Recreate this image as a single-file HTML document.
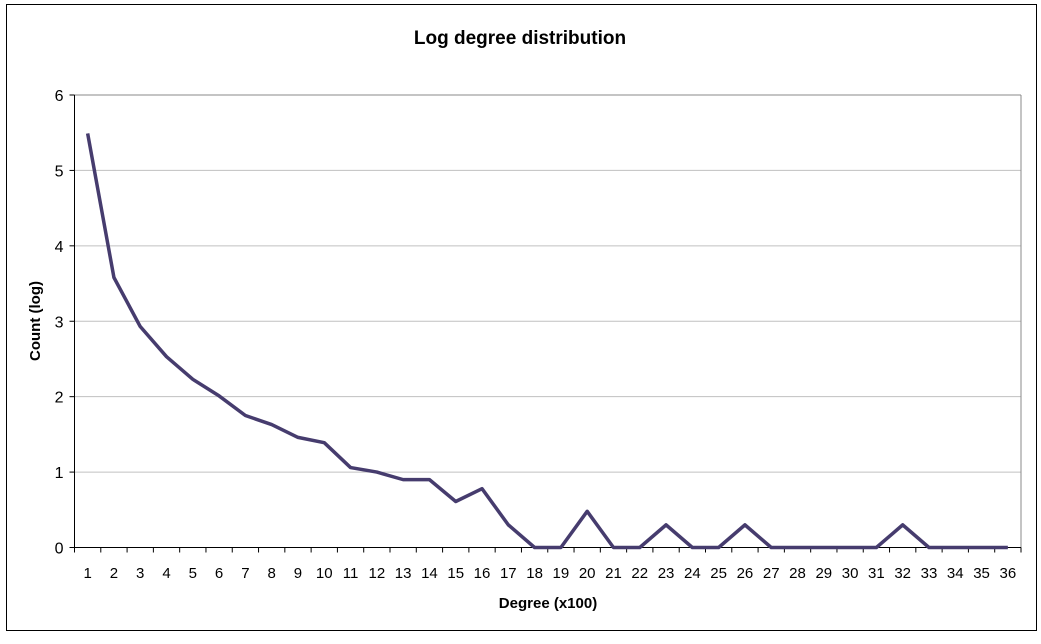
<!DOCTYPE html>
<html><head><meta charset="utf-8"><style>
body{margin:0;background:#fff}
svg{font-family:"Liberation Sans",sans-serif}
</style></head><body>
<svg id="chart" width="1041" height="639" xmlns="http://www.w3.org/2000/svg">
<rect x="6.5" y="4.5" width="1030" height="626" fill="#fff" stroke="#000" stroke-width="1"/>
<text x="520" y="44" text-anchor="middle" font-size="19" font-weight="bold">Log degree distribution</text>
<text transform="translate(40,321) rotate(-90)" text-anchor="middle" font-size="15" font-weight="bold">Count (log)</text>
<text x="548" y="608" text-anchor="middle" font-size="15" font-weight="bold">Degree (x100)</text>
<g id="grid"></g><g id="axes"></g><g id="series"></g>
</svg>
<script>
const categories=[1,2,3,4,5,6,7,8,9,10,11,12,13,14,15,16,17,18,19,20,21,22,23,24,25,26,27,28,29,30,31,32,33,34,35,36];
const counts=[5.49,3.58,2.93,2.53,2.23,2.01,1.75,1.63,1.46,1.39,1.06,1.0,0.9,0.9,0.61,0.78,0.3,0,0,0.48,0,0,0.3,0,0,0.3,0,0,0,0,0,0.3,0,0,0,0];
const yTicks=[0,1,2,3,4,5,6];
const L=74.5,R=1021,T=95,B=547.5,NS="http://www.w3.org/2000/svg";
const bw=(R-L)/categories.length;
const x=i=>L+bw*(i+0.5), y=v=>B-(B-T)*v/6;
function mk(t,a,p){const e=document.createElementNS(NS,t);for(const k in a)e.setAttribute(k,a[k]);p.appendChild(e);return e;}
const g=document.getElementById('grid'),ax=document.getElementById('axes'),s=document.getElementById('series');
yTicks.forEach(v=>{
 if(v>0){const l=mk('line',{x1:L,x2:R,y1:y(v),y2:y(v),stroke:v==6?'#888':'#c0c0c0'},g);
 
 }
 const t=mk('line',{x1:L-5,x2:L,y1:y(v),y2:y(v),stroke:'#000'},ax);
 const tx=mk('text',{x:L-11,y:y(v)+6,'text-anchor':'end','font-size':'16'},ax);tx.textContent=v;
 
 
});
mk('line',{x1:R,x2:R,y1:T,y2:B,stroke:'#888'},g);
mk('line',{x1:L,x2:L,y1:T,y2:B,stroke:'#000'},ax);
mk('line',{x1:L,x2:R,y1:B,y2:B,stroke:'#000'},ax);
categories.forEach((c,i)=>{
 mk('line',{x1:L+bw*i,x2:L+bw*i,y1:B,y2:B+5,stroke:'#000'},ax);
 const tx=mk('text',{x:x(i),y:578,'text-anchor':'middle','font-size':'15'},ax);tx.textContent=c;
 
 
});
mk('line',{x1:R,x2:R,y1:B,y2:B+5,stroke:'#000'},ax);
const p=mk('polyline',{points:counts.map((v,i)=>x(i)+','+y(v)).join(' '),fill:'none',stroke:'#463c6e','stroke-width':3.5,'stroke-linejoin':'round'},s);


</script>
</body></html>
